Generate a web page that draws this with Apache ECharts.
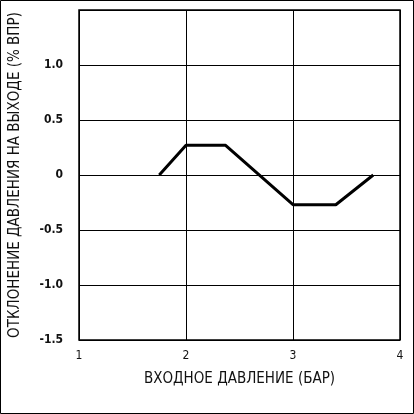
<!DOCTYPE html>
<html><head><meta charset="utf-8">
<script src="https://cdn.jsdelivr.net/npm/echarts@6/dist/echarts.min.js"></script>
<style>html,body{margin:0;padding:0;background:#fff}#c{width:414px;height:414px}</style>
</head><body><div id="c"></div>
<script>
const xValues = [1.75, 2.0, 2.37, 3.0, 3.4, 3.75];
const yValues = [0, 0.27, 0.27, -0.27, -0.27, 0];
const xTitle = 'ВХОДНОЕ ДАВЛЕНИЕ (БАР)';
const yTitle = 'ОТКЛОНЕНИЕ ДАВЛЕНИЯ НА ВЫХОДЕ (% ВПР)';
const chart = echarts.init(document.getElementById('c'));
const font = '"Liberation Sans Narrow","DejaVu Sans Condensed",sans-serif';
chart.setOption({
  animation: false,
  grid: {left: 75, right: 14, top: 10, bottom: 74, show: true, borderColor: '#000', borderWidth: 1.5},
  graphic: [{type: 'rect', shape: {x: 0.5, y: 0.5, width: 413, height: 413}, style: {fill: 'none', stroke: '#000', lineWidth: 1}}],
  xAxis: {type: 'value', min: 1, max: 4, interval: 1,
    name: xTitle, nameLocation: 'middle', nameGap: 32,
    nameTextStyle: {color: '#111', fontSize: 15, fontFamily: font},
    axisLine: {show: false}, axisTick: {show: false},
    axisLabel: {color: '#111', fontSize: 12, fontFamily: font, margin: 10},
    splitLine: {lineStyle: {color: '#000', width: 1}}},
  yAxis: {type: 'value', min: -1.5, max: 1.5, interval: 0.5,
    name: yTitle, nameLocation: 'middle', nameGap: 56,
    nameTextStyle: {color: '#111', fontSize: 15, fontFamily: font},
    axisLine: {show: false}, axisTick: {show: false},
    axisLabel: {color: '#111', fontSize: 12, fontWeight: 'bold', fontFamily: font, margin: 16,
      formatter: v => v === 1.5 ? '' : (v === 0 ? '0' : v.toFixed(1))},
    splitLine: {lineStyle: {color: '#000', width: 1}}},
  series: [{type: 'line', data: xValues.map((x, i) => [x, yValues[i]]),
    symbol: 'none', lineStyle: {color: '#000', width: 3}}]
});
</script></body></html>
